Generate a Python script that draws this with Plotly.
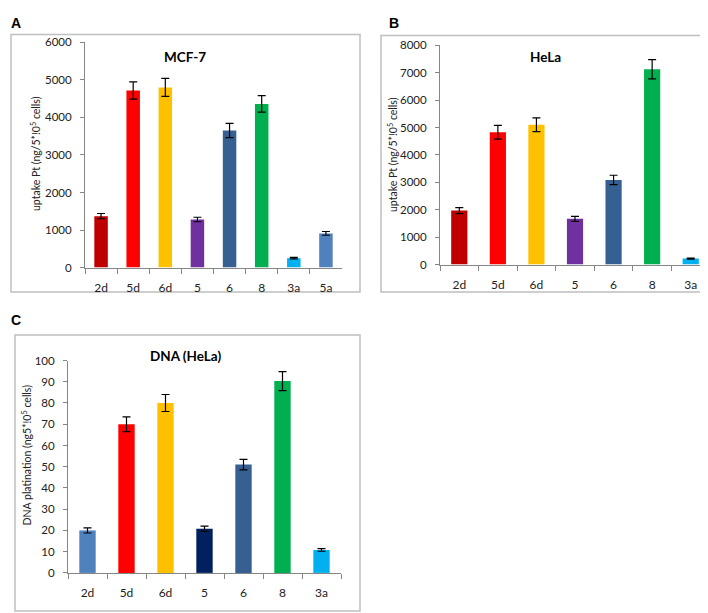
import plotly.graph_objects as go

W, H = 708, 613

# ---- data ----
cats_a = ["2d", "5d", "6d", "5", "6", "8", "3a", "5a"]
vals_a = [1370, 4720, 4800, 1280, 3650, 4360, 250, 910]
errs_a = [70, 230, 240, 60, 190, 220, 20, 50]
cols_a = ["#C00000", "#FF0000", "#FFC000", "#7030A0", "#376092", "#00B050", "#00B0F0", "#4F81BD"]

cats_b = ["2d", "5d", "6d", "5", "6", "8", "3a"]
vals_b = [1970, 4830, 5100, 1670, 3090, 7130, 220]
errs_b = [110, 250, 250, 90, 170, 350, 20]
cols_b = ["#C00000", "#FF0000", "#FFC000", "#7030A0", "#376092", "#00B050", "#00B0F0"]

cats_c = ["2d", "5d", "6d", "5", "6", "8", "3a"]
vals_c = [20.0, 70.0, 80.0, 20.8, 51.0, 90.3, 10.8]
errs_c = [1.2, 3.5, 4.0, 1.2, 2.5, 4.5, 0.6]
cols_c = ["#4F81BD", "#FF0000", "#FFC000", "#002060", "#376092", "#00B050", "#00B0F0"]

title_ab = "uptake Pt (ng/5*!0<sup>5</sup> cells)"
title_c = "DNA platination (ng5*!0<sup>5</sup> cells)"

FONT = "Lato"
AX = "#868686"

def px(x):
    return x / W

def py(y):
    return 1 - y / H

fig = go.Figure()

panels = [
    ("", cats_a, vals_a, errs_a, cols_a),
    ("2", cats_b, vals_b, errs_b, cols_b),
    ("3", cats_c, vals_c, errs_c, cols_c),
]
for suf, c, v, e, col in panels:
    fig.add_trace(go.Bar(
        x=c, y=v, marker=dict(color=col, line=dict(width=0)),
        error_y=dict(type="data", array=e, color="black", thickness=1.2, width=4),
        width=0.42, xaxis="x" + suf, yaxis="y" + suf, showlegend=False,
    ))

def xax(domain, anchor):
    return dict(domain=domain, anchor=anchor, type="category", showline=True, linecolor=AX,
                linewidth=1, ticks="outside", tickson="boundaries", ticklen=5, tickcolor=AX,
                ticklabelstandoff=9,
                showgrid=False, zeroline=False, tickfont=dict(family=FONT, size=12, color="#222"),
                fixedrange=True)

def yax(domain, anchor, rng, dt):
    return dict(domain=domain, anchor=anchor, range=rng, dtick=dt, showline=True, linecolor=AX,
                linewidth=1, ticks="outside", ticklen=4, tickcolor=AX, showgrid=False,
                ticklabelstandoff=6,
                zeroline=False, tickfont=dict(family=FONT, size=11.5, color="#222"))

fig.update_layout(
    width=W, height=H, margin=dict(l=0, r=0, t=0, b=0),
    paper_bgcolor="white", plot_bgcolor="white", bargap=0.58,
    xaxis=xax([px(77), px(334)], "y"),
    yaxis=yax([py(258), py(28)], "x", [0, 6000], 1000),
    xaxis2=xax([px(432), px(702)], "y2"),
    yaxis2=yax([py(255), py(31)], "x2", [0, 8000], 1000),
    xaxis3=xax([px(60), px(333)], "y3"),
    yaxis3=yax([py(570), py(353)], "x3", [0, 100], 10),
)

# panel frames
for x0, y0, x1, y1 in [(3, 20, 352, 283), (373, 21, 705, 283), (7, 327, 352, 609)]:
    fig.add_shape(type="rect", xref="paper", yref="paper", x0=px(x0), x1=px(x1), y0=py(y1), y1=py(y0),
                  line=dict(color="#BFBFBF", width=1.5), fillcolor="rgba(0,0,0,0)", layer="below")

# y-axis titles
for t, x, y in [(title_ab, 28, 142), (title_ab, 385, 142), (title_c, 18, 450)]:
    fig.add_annotation(text=t, xref="paper", yref="paper", x=px(x), y=py(y), textangle=-90,
                       xanchor="center", yanchor="middle", showarrow=False,
                       font=dict(family=FONT, size=10.5, color="#222"))

# panel letters
for lab, x, y in [("A", 8, 8), ("B", 386, 8), ("C", 8, 312)]:
    fig.add_annotation(text="<b>" + lab + "</b>", xref="paper", yref="paper", x=px(x), y=py(y),
                       xanchor="center", yanchor="middle", showarrow=False,
                       font=dict(family="Liberation Sans", size=14, color="black"))

# chart titles
for t, x, y in [("MCF-7", 177, 43), ("HeLa", 537, 43), ("DNA (HeLa)", 177, 348)]:
    fig.add_annotation(text="<b>" + t + "</b>", xref="paper", yref="paper", x=px(x), y=py(y),
                       xanchor="center", yanchor="middle", showarrow=False,
                       font=dict(family=FONT, size=13.5, color="black"))

fig.write_html("out.html")
